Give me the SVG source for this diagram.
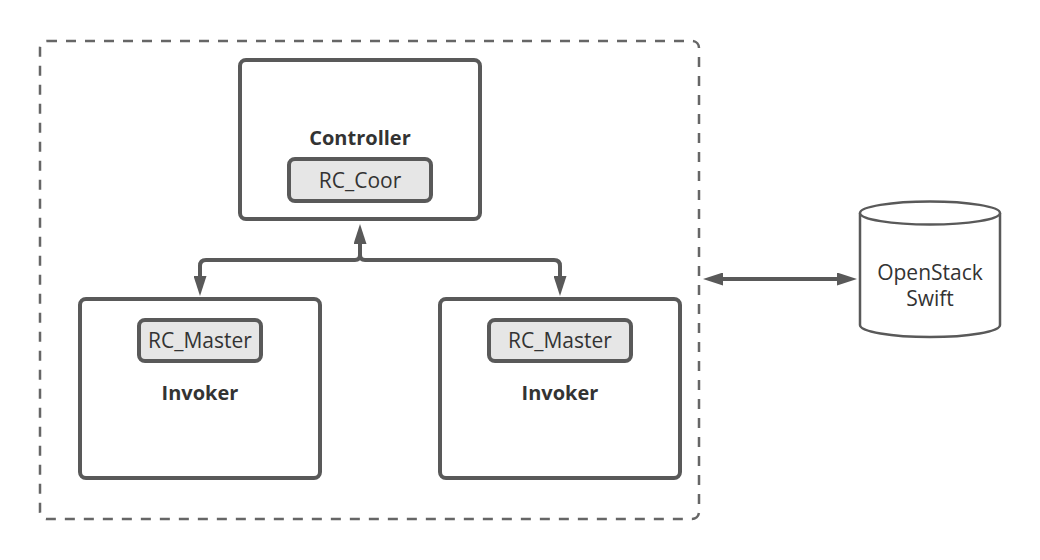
<svg xmlns="http://www.w3.org/2000/svg" width="1040" height="560" viewBox="0 0 1040 560">
<style>
.box{fill:#fff;stroke:#595959;stroke-width:4}
.inner{fill:#e6e6e6;stroke:#595959;stroke-width:4}
.lbl{font-family:"Open Sans","Noto Sans",sans-serif;font-size:21px;fill:#333;text-anchor:middle}
.b{font-weight:bold;font-size:20px}
.conn{fill:none;stroke:#595959;stroke-width:4;stroke-linejoin:round}
</style>
<defs>
<marker id="ah" viewBox="0 0 20 13" refX="0" refY="6.5" markerWidth="5" markerHeight="3.25" markerUnits="strokeWidth" orient="auto-start-reverse">
<path d="M0,0 L20,6.5 L0,13 z" fill="#595959"/>
</marker>
</defs>
<rect width="1040" height="560" fill="#fff"/>
<g id="group">
<rect x="40" y="41" width="659" height="478" rx="7" fill="none" stroke="#666" stroke-width="2.5" stroke-dasharray="10 9"/>
</g>
<g id="controller">
<rect class="box" x="240" y="60" width="240" height="159" rx="6"/>
<text class="lbl b" x="360" y="145">Controller</text>
<rect class="inner" x="289" y="159" width="142" height="42" rx="6"/>
<text class="lbl" x="360" y="188">RC_Coor</text>
</g>
<g id="invoker1">
<rect class="box" x="80" y="299" width="240" height="179" rx="6"/>
<rect class="inner" x="139" y="320" width="122" height="41" rx="6"/>
<text class="lbl" x="200" y="348">RC_Master</text>
<text class="lbl b" x="200" y="400">Invoker</text>
</g>
<g id="invoker2">
<rect class="box" x="440" y="299" width="240" height="179" rx="6"/>
<rect class="inner" x="489" y="320" width="142" height="41" rx="6"/>
<text class="lbl" x="560" y="348">RC_Master</text>
<text class="lbl b" x="560" y="400">Invoker</text>
</g>
<g id="swift">
<path d="M860,213 L860,325 A70,12 0 0 0 1000,325 L1000,213" fill="#fff" stroke="#595959" stroke-width="2.5"/>
<ellipse cx="930" cy="213" rx="70" ry="11.5" fill="#fff" stroke="#595959" stroke-width="2.5"/>
<text class="lbl" x="930" y="280">OpenStack</text>
<text class="lbl" x="930" y="306">Swift</text>
</g>
<g id="connectors">
<path class="conn" d="M360,255 Q360,260 355,260 L206,260 Q200,260 200,266 L200,276" marker-end="url(#ah)"/>
<path class="conn" d="M360,255 Q360,260 365,260 L554,260 Q560,260 560,266 L560,276" marker-end="url(#ah)"/>
<path class="conn" d="M360,256 L360,244" marker-end="url(#ah)"/>
<path class="conn" d="M723,279 L837,279" marker-start="url(#ah)" marker-end="url(#ah)"/>
</g>
</svg>
